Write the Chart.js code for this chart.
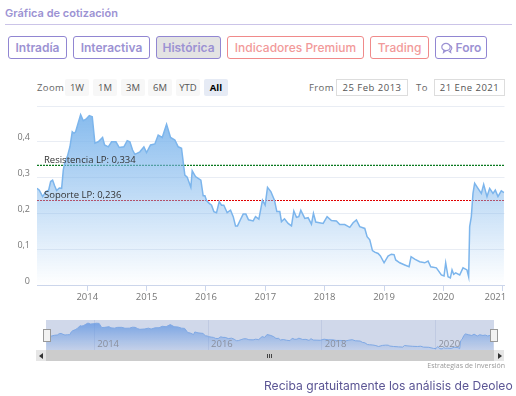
<!DOCTYPE html>
<html lang="es">
<head>
<meta charset="UTF-8">
<title>Gráfica de cotización</title>
<script src="https://cdn.jsdelivr.net/npm/chart.js"></script>
<style>
body { margin: 0; background: #fff; width: 516px; height: 396px; overflow: hidden; position: relative; font-family: "Open Sans", sans-serif; }
.abs { position: absolute; }
#title { left: 5px; top: 6px; font: 600 11px Inter, sans-serif; color: #9c92d3; }
#rule { left: 5px; top: 24px; width: 507px; height: 1px; background: #cbc4e8; }
.btn { position: absolute; top: 36px; height: 21px; line-height: 21px; border: 1px solid #9186d2; border-radius: 3px; color: #9c92d3; font: 600 12px/21px Inter, sans-serif; text-align: center; box-sizing: content-box; }
.btn.red { border-color: #f08a8a; color: #f29a9a; font-weight: 500; }
.btn.on { background: #e3e3e3; }
.rng { position: absolute; top: 79px; height: 17px; width: 24px; background: #f7f7f7; color: #555; font-size: 9.5px; line-height: 17px; text-align: center; border-radius: 2px; }
.rng.on { background: #e6ebf5; color: #000; font-weight: 700; }
.lbl { position: absolute; color: #666; font-size: 9.5px; letter-spacing: .4px; top: 81px; }
.box { position: absolute; top: 79px; height: 15px; border: 1px solid #ddd; color: #555; font-size: 9.5px; letter-spacing: .5px; line-height: 15px; text-align: center; }
#main { left: 0; top: 100px; }
#nav { left: 46px; top: 320px; background: #d0d8ea; }
#scroll { left: 46px; top: 350px; width: 448px; height: 11px; background: #ccc; }
.end { position: absolute; top: 350px; width: 10px; height: 11px; background: #e6e6e6; }
.grip { position: absolute; top: 354px; width: 1px; height: 4px; background: #444; }
.hnd { position: absolute; top: 329px; width: 6px; height: 11px; background: #f2f2f2; border: 1px solid #999; }
#credit { right: 11px; top: 361px; font-size: 7px; color: #999; }
#cta { left: 264px; top: 378px; font: 400 12.1px Inter, sans-serif; color: #5b5594; }
</style>
</head>
<body>
<div class="abs" id="title">Gráfica de cotización</div>
<div class="abs" id="rule"></div>
<div class="btn" style="left:8px;width:57px">Intradía</div>
<div class="btn" style="left:73px;width:75px">Interactiva</div>
<div class="btn on" style="left:156px;width:63px">Histórica</div>
<div class="btn red" style="left:227px;width:135px">Indicadores Premium</div>
<div class="btn red" style="left:370px;width:57px">Trading</div>
<div class="btn" style="left:435px;width:50px"><svg width="12" height="12" viewBox="0 0 12 12" style="vertical-align:-2px" fill="none" stroke="#9c92d3" stroke-width="1.2"><ellipse cx="5" cy="5" rx="4.2" ry="3.6"/><path d="M3 8l-.5 2.5L5 8.6M8.5 3.2c1.6 .6 2.6 2 2.2 3.5-.2 .8-.7 1.4-1.3 1.8l.3 2-2-1.4"/></svg> Foro</div>

<div class="lbl" style="left:37px">Zoom</div>
<div class="rng" style="left:65px">1W</div>
<div class="rng" style="left:93px">1M</div>
<div class="rng" style="left:121px">3M</div>
<div class="rng" style="left:148px">6M</div>
<div class="rng" style="left:176px">YTD</div>
<div class="rng on" style="left:204px">All</div>
<div class="lbl" style="left:309px">From</div>
<div class="box" style="left:336px;width:70px">25 Feb 2013</div>
<div class="lbl" style="left:416px">To</div>
<div class="box" style="left:434px;width:69px">21 Ene 2021</div>

<canvas class="abs" id="main" width="516" height="205"></canvas>
<canvas class="abs" id="nav" width="448" height="30"></canvas>
<div class="abs" id="scroll"></div>
<div class="end" style="left:36px"></div>
<div class="end" style="left:494px"></div>
<div class="grip" style="left:267px"></div>
<div class="grip" style="left:269px"></div>
<div class="grip" style="left:271px"></div>
<div class="abs" style="left:39px;top:353px;border:3px solid transparent;border-right:4px solid #333;border-left:0"></div>
<div class="abs" style="left:498px;top:353px;border:3px solid transparent;border-left:4px solid #333;border-right:0"></div>
<div class="hnd" style="left:43px"></div>
<div class="hnd" style="left:490px"></div>
<div class="abs" id="credit">Estrategias de Inversión</div>
<div class="abs" id="cta">Reciba gratuitamente los análisis de Deoleo</div>

<script>
// Series, x as decimal years
const dates = [2013.153,2013.192,2013.248,2013.304,2013.349,2013.383,2013.416,2013.450,2013.484,2013.529,2013.568,2013.596,2013.618,2013.663,2013.708,2013.747,2013.776,2013.804,2013.837,2013.888,2013.933,2013.978,2014.034,2014.084,2014.129,2014.185,2014.258,2014.292,2014.354,2014.410,2014.483,2014.539,2014.617,2014.673,2014.718,2014.763,2014.802,2014.887,2014.954,2014.999,2015.066,2015.139,2015.195,2015.263,2015.336,2015.403,2015.476,2015.532,2015.588,2015.644,2015.684,2015.745,2015.768,2015.824,2015.914,2015.953,2015.982,2016.010,2016.055,2016.094,2016.133,2016.178,2016.223,2016.262,2016.301,2016.357,2016.414,2016.459,2016.498,2016.531,2016.582,2016.627,2016.672,2016.717,2016.795,2016.835,2016.891,2016.952,2016.997,2017.037,2017.093,2017.154,2017.194,2017.244,2017.272,2017.323,2017.384,2017.441,2017.480,2017.525,2017.564,2017.598,2017.665,2017.721,2017.777,2017.811,2017.850,2017.974,2018.041,2018.114,2018.198,2018.254,2018.338,2018.423,2018.479,2018.535,2018.591,2018.676,2018.715,2018.760,2018.805,2018.844,2018.900,2018.939,2019.001,2019.068,2019.124,2019.169,2019.197,2019.265,2019.349,2019.422,2019.456,2019.517,2019.601,2019.686,2019.742,2019.787,2019.882,2019.966,2020.011,2020.039,2020.079,2020.118,2020.146,2020.174,2020.207,2020.275,2020.331,2020.398,2020.426,2020.443,2020.471,2020.499,2020.527,2020.583,2020.640,2020.679,2020.735,2020.780,2020.836,2020.875,2020.920,2020.976,2021.021];
const prices = [.270,.265,.247,.261,.265,.289,.293,.277,.264,.271,.270,.321,.340,.358,.386,.428,.424,.428,.447,.476,.459,.463,.473,.470,.396,.400,.412,.391,.386,.400,.400,.384,.386,.403,.400,.377,.365,.372,.386,.370,.391,.394,.419,.412,.449,.412,.405,.386,.382,.307,.301,.273,.319,.303,.293,.249,.249,.236,.228,.223,.205,.202,.233,.223,.223,.202,.209,.191,.165,.165,.183,.198,.198,.182,.179,.191,.184,.237,.223,.273,.261,.237,.205,.205,.177,.185,.172,.165,.207,.189,.191,.209,.186,.188,.170,.200,.176,.172,.191,.180,.179,.169,.169,.161,.174,.182,.163,.158,.135,.126,.096,.092,.088,.081,.062,.081,.086,.085,.070,.062,.056,.051,.079,.072,.065,.062,.067,.051,.048,.028,.025,.062,.023,.020,.042,.030,.034,.028,.048,.042,.023,.163,.191,.256,.284,.270,.256,.281,.247,.270,.256,.265,.247,.263,.258];
const yearTicks = [2014,2015,2016,2017,2018,2019,2020,2021];
const navTicks = [2014,2016,2018,2020];
const levelNames = ['Resistencia LP: 0,334','Soporte LP: 0,236'];
const levelValues = [0.334,0.236];
const levelColors = ['#0a7a20','#e00000'];

const xMin = 2013.153, xMax = 2021.03;
const points = dates.map((d, i) => ({x: d, y: prices[i]}));

function areaGradient(c, top, alpha) {
    if (!c.chart.chartArea) return 'rgba(124,181,236,.5)';
    const g = c.chart.ctx.createLinearGradient(0, top, 0, c.chart.chartArea.bottom);
    g.addColorStop(0, 'rgba(124,181,236,' + alpha + ')');
    g.addColorStop(1, 'rgba(124,181,236,0)');
    return g;
}

// level captions sit just above their lines
const levelText = {
    id: 'levelText',
    afterDatasetsDraw(chart) {
        const ctx = chart.ctx;
        ctx.save();
        ctx.font = '9.5px "Open Sans"';
        ctx.fillStyle = '#333';
        ctx.textBaseline = 'bottom';
        levelNames.forEach((t, i) => {
            ctx.fillText(t, chart.scales.x.left + 7, chart.scales.y.getPixelForValue(levelValues[i]) - 0.5);
        });
        ctx.restore();
    }
};

new Chart(document.getElementById('main'), {
    type: 'line',
    data: {
        datasets: [
            {data: points, borderColor: '#7cb5ec', borderWidth: 1.5, pointRadius: 0, tension: 0, fill: 'origin',
             backgroundColor: c => areaGradient(c, 17, 0.9)},
            ...levelValues.map((v, i) => ({
                data: [{x: xMin, y: v}, {x: xMax, y: v}],
                borderColor: levelColors[i], borderWidth: 1.2, borderDash: [2, 1], pointRadius: 0, fill: false
            }))
        ]
    },
    plugins: [levelText],
    options: {
        responsive: false,
        animation: false,
        layout: {padding: {top: 6, right: 11.5, left: 0, bottom: 0}},
        plugins: {legend: {display: false}, tooltip: {enabled: false}},
        scales: {
            x: {
                type: 'linear', min: xMin, max: xMax,
                afterBuildTicks: s => { s.ticks = yearTicks.map(v => ({value: v})); },
                afterFit: s => { s.height = 20; s.paddingLeft = 0; s.paddingRight = 0; },
                grid: {drawOnChartArea: false, color: '#ccd6eb', tickLength: 6},
                border: {color: '#ccd6eb'},
                ticks: {autoSkip: false, maxRotation: 0, padding: 1, color: '#777', font: {family: 'Open Sans', size: 9.5},
                        callback: v => v === 2021 ? '2021      ' : String(v)}
            },
            y: {
                min: 0, max: 0.5,
                afterFit: s => { s.width = 37; s.paddingTop = 0; s.paddingBottom = 0; },
                border: {display: false},
                grid: {color: '#e9edf4', drawTicks: false},
                ticks: {stepSize: 0.1, padding: 7, labelOffset: -4, color: '#777', font: {family: 'Open Sans', size: 9},
                        callback: v => v === 0.5 ? '' : String(v).replace('.', ',')}
            }
        }
    }
});

new Chart(document.getElementById('nav'), {
    type: 'line',
    data: {datasets: [{data: points, borderColor: '#7fa8e4', borderWidth: 1, pointRadius: 0, tension: 0, fill: 'origin',
                       backgroundColor: c => {
                           if (!c.chart.chartArea) return 'rgba(90,145,225,.5)';
                           const g = c.chart.ctx.createLinearGradient(0, 0, 0, 30);
                           g.addColorStop(0, 'rgba(90,145,225,.8)');
                           g.addColorStop(1, 'rgba(90,145,225,.1)');
                           return g;
                       }}]},
    options: {
        responsive: false,
        animation: false,
        layout: {padding: 0},
        plugins: {legend: {display: false}, tooltip: {enabled: false}},
        scales: {
            x: {
                type: 'linear', min: 2013.15, max: 2021.03,
                afterBuildTicks: s => { s.ticks = navTicks.map(v => ({value: v})); },
                afterFit: s => { s.height = 0; s.paddingLeft = 0; s.paddingRight = 0; },
                border: {display: false},
                grid: {color: '#c0cae2', drawTicks: false},
                ticks: {z: 1, autoSkip: false, maxRotation: 0, mirror: true, align: 'start', padding: 0, labelOffset: 3, color: '#8a8f9c', font: {family: 'Open Sans', size: 9.5},
                        callback: v => String(v)}
            },
            y: {display: false, min: 0, max: 0.53}
        }
    }
});
</script>
</body>
</html>
